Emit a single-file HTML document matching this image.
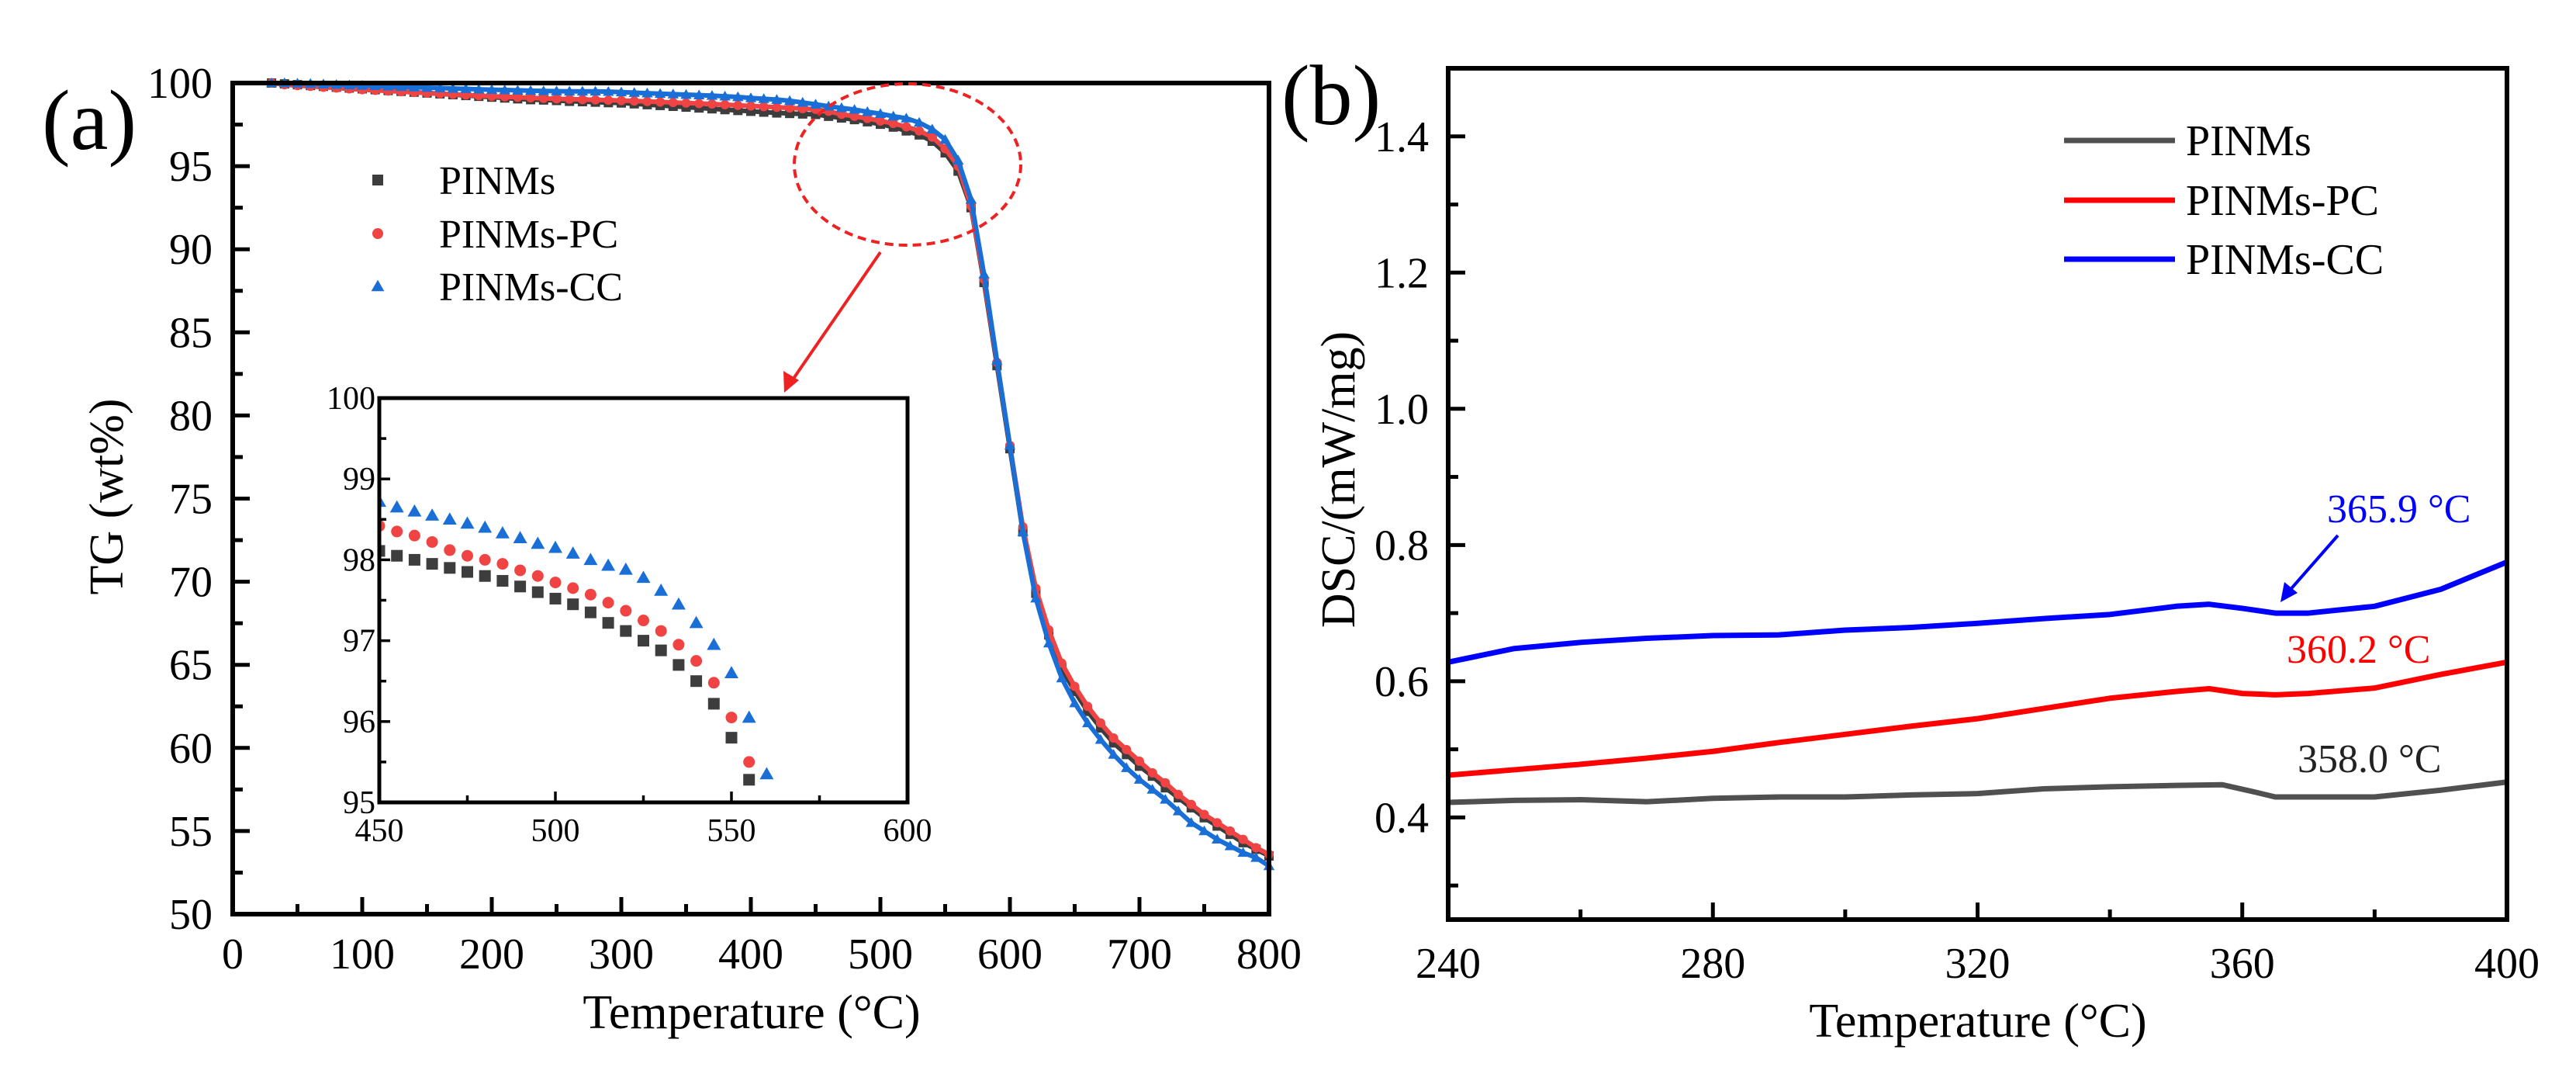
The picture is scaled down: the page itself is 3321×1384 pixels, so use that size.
<!DOCTYPE html>
<html><head><meta charset="utf-8"><style>
html,body{margin:0;padding:0;background:#fff;}
svg{display:block;font-family:"Liberation Serif",serif;}
</style></head><body>
<svg id="fig" width="3321" height="1384" viewBox="0 0 3321 1384" xmlns="http://www.w3.org/2000/svg">
<rect width="3321" height="1384" fill="#fff"/>
<g id="pa"></g>
<g id="pb"></g>
</svg>
<script>
// ---------- Panel (a) data ----------
const tgTemps = [30,40,50,60,70,80,90,100,110,120,130,140,150,160,170,180,190,200,210,220,230,240,250,260,270,280,290,300,310,320,330,340,350,360,370,380,390,400,410,420,430,440,450,460,470,480,490,500,510,520,530,540,550,560,570,580,590,600,610,620,630,640,650,660,670,680,690,700,710,720,730,740,750,760,770,780,790,800];
const tgPINMs = [100,99.95,99.9,99.85,99.8,99.75,99.7,99.65,99.6,99.55,99.5,99.45,99.4,99.35,99.3,99.25,99.2,99.15,99.1,99.05,99.0,98.98,98.95,98.9,98.88,98.85,98.82,98.8,98.75,98.7,98.65,98.6,98.55,98.5,98.45,98.4,98.35,98.3,98.25,98.2,98.17,98.14,98.11,98.0,97.9,97.8,97.67,97.52,97.35,97.12,96.88,96.5,95.8,94.7,92.5,88.0,83.0,78.0,73.0,69.3,66.8,64.8,63.4,62.2,61.2,60.3,59.6,58.9,58.3,57.6,57.0,56.4,55.8,55.3,54.8,54.3,53.9,53.5];
const tgPC = [100,99.9,99.85,99.8,99.75,99.7,99.65,99.6,99.56,99.52,99.48,99.44,99.4,99.36,99.32,99.28,99.24,99.2,99.17,99.14,99.11,99.08,99.05,99.03,99.01,98.99,98.97,98.95,98.92,98.89,98.86,98.83,98.8,98.77,98.74,98.7,98.66,98.62,98.58,98.54,98.5,98.46,98.42,98.3,98.12,98.0,97.87,97.72,97.57,97.37,97.12,96.75,96.05,95.0,92.6,88.2,83.2,78.2,73.3,69.6,67.1,65.1,63.7,62.5,61.5,60.6,59.9,59.2,58.5,57.9,57.2,56.6,56.0,55.5,55.0,54.5,54.0,53.6];
const tgCC = [100,100,99.98,99.96,99.93,99.9,99.87,99.85,99.83,99.8,99.78,99.75,99.72,99.7,99.67,99.65,99.62,99.6,99.58,99.56,99.54,99.52,99.51,99.5,99.5,99.5,99.48,99.45,99.42,99.39,99.36,99.33,99.3,99.27,99.24,99.2,99.16,99.1,99.05,99.0,98.93,98.83,98.72,98.6,98.5,98.4,98.27,98.15,98.0,97.88,97.62,97.22,96.6,95.35,93.0,88.5,83.3,78.2,73.0,69.0,66.3,64.2,62.7,61.5,60.5,59.6,58.8,58.1,57.5,56.9,56.2,55.5,55.0,54.5,54.1,53.7,53.4,52.9];
const aXTicks = [0,100,200,300,400,500,600,700,800];
const aYTicks = [50,55,60,65,70,75,80,85,90,95,100];
// inset
const inTemps = [450,455,460,465,470,475,480,485,490,495,500,505,510,515,520,525,530,535,540,545,550,555,560];
const inPINMs = [98.11,98.05,98.0,97.95,97.9,97.85,97.8,97.74,97.67,97.6,97.52,97.45,97.35,97.22,97.12,97.0,96.88,96.7,96.5,96.22,95.8,95.28,94.7];
const inPC = [98.42,98.35,98.3,98.22,98.12,98.05,98.0,97.95,97.87,97.8,97.72,97.65,97.57,97.47,97.37,97.25,97.12,96.95,96.75,96.48,96.05,95.5,94.85];
const inCC = [98.72,98.65,98.6,98.55,98.5,98.45,98.4,98.33,98.27,98.2,98.15,98.08,98.0,97.93,97.88,97.78,97.62,97.45,97.22,96.95,96.6,96.05,95.35];
const inXTicks = [450,500,550,600];
const inYTicks = [95,96,97,98,99,100];
// ---------- Panel (b) data ----------
const dscBlackT = [240,250,260,270,280,290,300,310,320,330,340,350,357,362,365,370,380,390,400];
const dscBlack = [0.422,0.425,0.426,0.423,0.428,0.430,0.430,0.433,0.435,0.442,0.445,0.447,0.448,0.437,0.430,0.430,0.430,0.440,0.452];
const dscRedT = [240,250,260,270,280,290,300,310,320,330,340,350,355,360,365,370,380,390,400];
const dscRed = [0.462,0.470,0.478,0.487,0.497,0.510,0.522,0.534,0.545,0.560,0.575,0.585,0.589,0.582,0.580,0.582,0.590,0.610,0.628];
const dscBlueT = [240,250,260,270,280,290,300,310,320,330,340,350,355,360,365,370,380,390,400];
const dscBlue = [0.628,0.648,0.657,0.663,0.667,0.668,0.675,0.679,0.685,0.692,0.698,0.710,0.713,0.707,0.700,0.700,0.710,0.735,0.775];
const bXTicks = [240,280,320,360,400];
const bYTicks = ["0.4","0.6","0.8","1.0","1.2","1.4"];

const NS="http://www.w3.org/2000/svg";
function mk(parent,tag,attrs,text){const e=document.createElementNS(NS,tag);for(const k in attrs)e.setAttribute(k,attrs[k]);if(text!==undefined)e.textContent=text;parent.appendChild(e);return e;}
function lin(d0,d1,r0,r1){return v=>r0+(v-d0)*(r1-r0)/(d1-d0);}

// ===== Panel a =====
const pa=document.getElementById('pa');
const ax=lin(0,800,300,1636), ay=lin(50,100,1178,107);
let t;
t=mk(pa,'text',{x:54,y:192,'font-size':110},'(a)');


for(let v=0;v<=800;v+=50){const maj=v%100===0;const l=mk(pa,'line',{x1:ax(v),x2:ax(v),y1:1178,y2:1178-(maj?22:13),stroke:'#000','stroke-width':5});

}
for(let v=50;v<=100;v+=2.5){const maj=v%5===0;const l=mk(pa,'line',{x1:300,x2:300+(maj?22:13),y1:ay(v),y2:ay(v),stroke:'#000','stroke-width':5});

}
aXTicks.forEach(v=>{const e=mk(pa,'text',{x:ax(v),y:1248,'font-size':56,'text-anchor':'middle'},String(v));

});
aYTicks.forEach(v=>{const e=mk(pa,'text',{x:274,y:ay(v)+19,'font-size':56,'text-anchor':'end'},String(v));

});
t=mk(pa,'text',{x:969,y:1325,'font-size':62,'text-anchor':'middle'},'Temperature (°C)');


t=mk(pa,'text',{x:0,y:0,'font-size':62,'text-anchor':'middle',transform:'translate(158,640) rotate(-90)'},'TG (wt%)');



function marker(g,shape,cx,cy,s,color){
  let e;
  if(shape==='sq') e=mk(g,'rect',{x:cx-s/2,y:cy-s/2,width:s,height:s,fill:color});
  else if(shape==='ci') e=mk(g,'circle',{cx:cx,cy:cy,r:s/2,fill:color});
  else e=mk(g,'polygon',{points:`${cx},${cy-s*0.6} ${cx-s*0.6},${cy+s*0.45} ${cx+s*0.6},${cy+s*0.45}`,fill:color});
  return e;
}
const series=[['PINMs',tgPINMs,inPINMs,'sq','#3d3d3d'],['PINMs-PC',tgPC,inPC,'ci','#f04444'],['PINMs-CC',tgCC,inCC,'tr','#1a6fd6']];
series.forEach(([name,vals,ivals,shape,col])=>{
  const g=mk(pa,'g',{});
  
  
  const pts=tgTemps.map((x,i)=>ax(x)+','+ay(vals[i])).join(' ');
  mk(g,'polyline',{points:pts,fill:'none',stroke:col,'stroke-width':6});
  tgTemps.forEach((x,i)=>{const m=marker(g,shape,ax(x),ay(vals[i]),12,col);
  
  });
});
t=mk(pa,'rect',{x:300,y:107,width:1336,height:1071,fill:'none',stroke:'#000','stroke-width':6});


const legA=mk(pa,'g',{});


series.forEach(([name,,,shape,col],i)=>{const y=[232,301,369][i];
  const m=marker(legA,shape,487,y,14,col);
  
  
  const e=mk(legA,'text',{x:566,y:y+18,'font-size':52},name);
  
  });
t=mk(pa,'ellipse',{cx:1170,cy:212,rx:146,ry:104,fill:'none',stroke:'#e22','stroke-width':4,'stroke-dasharray':'11 7'});


t=mk(pa,'line',{x1:1135,y1:325,x2:1018,y2:495,stroke:'#e22','stroke-width':4});


mk(pa,'polygon',{points:'1011,506 1010,478 1030,490',fill:'#e22'});
const ins=mk(pa,'g',{});


const ix=lin(450,600,489,1170), iy=lin(95,100,1034,513);
mk(ins,'rect',{x:489,y:513,width:681,height:521,fill:'#fff'});
const cp=mk(ins,'clipPath',{id:'inclip'});mk(cp,'rect',{x:489,y:513,width:681,height:524});
const ig=mk(ins,'g',{'clip-path':'url(#inclip)'});
series.forEach(([name,,ivals,shape,col])=>{
  inTemps.forEach((x,i)=>{const m=marker(ig,shape,ix(x),iy(ivals[i]),15,col);
  
  });
});
for(let v=450;v<=600;v+=25){const maj=v%50===0;mk(ins,'line',{x1:ix(v),x2:ix(v),y1:1034,y2:1034-(maj?14:9),stroke:'#000','stroke-width':3.5});}
for(let v=95;v<=100;v+=0.5){const maj=Math.abs(v-Math.round(v))<0.01;mk(ins,'line',{x1:489,x2:489+(maj?14:9),y1:iy(v),y2:iy(v),stroke:'#000','stroke-width':3.5});}
mk(ins,'rect',{x:489,y:513,width:681,height:521,fill:'none',stroke:'#000','stroke-width':5});
inXTicks.forEach(v=>{const e=mk(ins,'text',{x:ix(v),y:1084,'font-size':42,'text-anchor':'middle'},String(v));

});
inYTicks.forEach(v=>{const e=mk(ins,'text',{x:484,y:iy(v)+14,'font-size':42,'text-anchor':'end'},String(v));

});

// ===== Panel b =====
const pb=document.getElementById('pb');
const bx=lin(240,400,1867,3232), by=lin(0.25,1.5,1185,88);
t=mk(pb,'text',{x:1652,y:160,'font-size':110},'(b)');


for(let v=240;v<=400;v+=20){const maj=v%40===0;const l=mk(pb,'line',{x1:bx(v),x2:bx(v),y1:1185,y2:1185-(maj?22:13),stroke:'#000','stroke-width':5});

}
for(let k=3;k<=14;k++){const v=k/10;const maj=k%2===0;const l=mk(pb,'line',{x1:1867,x2:1867+(maj?22:13),y1:by(v),y2:by(v),stroke:'#000','stroke-width':5});

}
bXTicks.forEach(v=>{const e=mk(pb,'text',{x:bx(v),y:1260,'font-size':56,'text-anchor':'middle'},String(v));

});
bYTicks.forEach(v=>{const e=mk(pb,'text',{x:1842,y:by(parseFloat(v))+19,'font-size':56,'text-anchor':'end'},v);

});
t=mk(pb,'text',{x:2550,y:1336,'font-size':62,'text-anchor':'middle'},'Temperature (°C)');


t=mk(pb,'text',{x:0,y:0,'font-size':62,'text-anchor':'middle',transform:'translate(1746,618) rotate(-90)'},'DSC/(mW/mg)');


const bser=[['PINMs',dscBlackT,dscBlack,'#505050'],['PINMs-PC',dscRedT,dscRed,'#ff0000'],['PINMs-CC',dscBlueT,dscBlue,'#0000ff']];
bser.forEach(([name,xs,ys,col])=>{
  const p=mk(pb,'polyline',{points:xs.map((x,i)=>bx(x)+','+by(ys[i])).join(' '),fill:'none',stroke:col,'stroke-width':7,'stroke-linejoin':'round'});
  
  
});
t=mk(pb,'rect',{x:1867,y:88,width:1365,height:1097,fill:'none',stroke:'#000','stroke-width':6});


const legB=mk(pb,'g',{});


bser.forEach(([name,,,col],i)=>{const y=[181,258,334][i];
  mk(legB,'line',{x1:2661,x2:2804,y1:y,y2:y,stroke:col,'stroke-width':7});
  const e=mk(legB,'text',{x:2818,y:y+19,'font-size':56},name);
  
  });
t=mk(pb,'text',{x:3000,y:673,'font-size':52,fill:'#0000ff'},'365.9 °C');


mk(pb,'line',{x1:3014,y1:690,x2:2950,y2:763,stroke:'#0000ff','stroke-width':4});
mk(pb,'polygon',{points:'2940,776 2945,750 2962,764',fill:'#0000ff'});
t=mk(pb,'text',{x:2948,y:854,'font-size':52,fill:'#ff0000'},'360.2 °C');


t=mk(pb,'text',{x:2962,y:995,'font-size':52,fill:'#222'},'358.0 °C');


</script>
</body></html>
